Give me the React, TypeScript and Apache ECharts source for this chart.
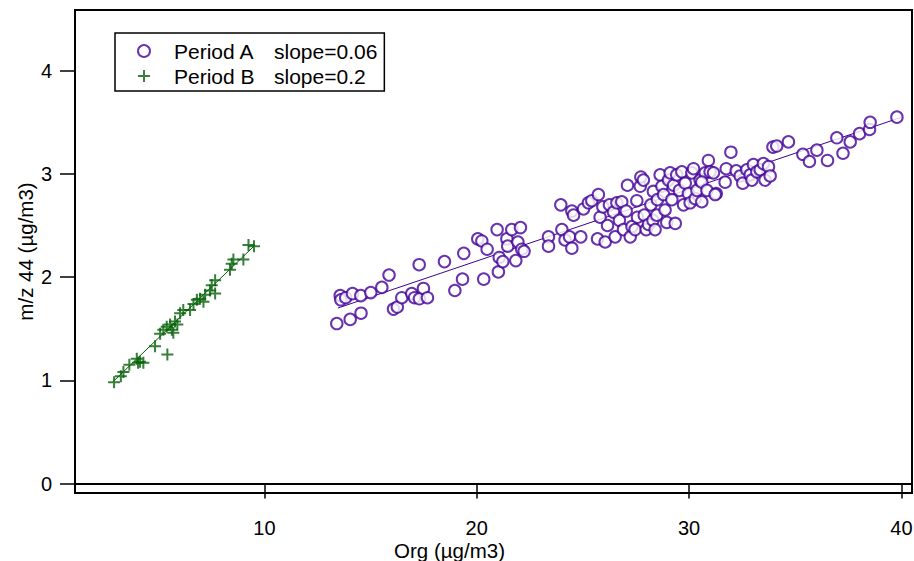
import React, { useEffect, useRef } from "react";
import * as echarts from "echarts";

const periodA: number[][] = [
  [13.41, 1.55], [14.04, 1.59], [14.55, 1.65], [13.57, 1.82], [13.6, 1.78], [13.83, 1.8], [14.15, 1.84], [14.54, 1.82],
  [15.01, 1.85], [15.53, 1.9], [15.87, 2.02], [16.08, 1.69], [16.26, 1.71], [16.47, 1.8], [16.94, 1.84], [17.07, 1.8],
  [17.3, 1.79], [17.49, 1.89], [17.68, 1.8], [17.29, 2.12], [18.48, 2.15], [18.97, 1.87], [19.33, 1.98], [19.39, 2.23],
  [20.05, 2.37], [20.24, 2.35], [20.49, 2.27], [20.33, 1.98], [20.96, 2.46], [21.02, 2.05], [21.06, 2.19], [21.23, 2.15],
  [21.42, 2.37], [21.46, 2.3], [21.65, 2.46], [21.84, 2.16], [21.94, 2.34], [22.06, 2.48], [22.12, 2.27], [22.23, 2.25],
  [23.38, 2.39], [23.38, 2.3], [23.96, 2.7], [24.01, 2.46], [24.16, 2.36], [24.37, 2.39], [24.48, 2.28], [24.48, 2.64],
  [24.56, 2.6], [24.9, 2.39], [25.03, 2.66], [25.26, 2.72], [25.42, 2.74], [25.69, 2.37], [25.73, 2.8], [25.81, 2.58],
  [25.94, 2.68], [26.05, 2.34], [26.16, 2.5], [26.25, 2.7], [26.44, 2.63], [26.52, 2.39], [26.6, 2.72], [26.72, 2.55],
  [26.83, 2.73], [26.91, 2.46], [27.04, 2.64], [27.1, 2.89], [27.23, 2.39], [27.31, 2.49], [27.46, 2.46], [27.54, 2.74],
  [27.57, 2.58], [27.7, 2.88], [27.73, 2.97], [27.85, 2.94], [27.89, 2.6], [27.98, 2.46], [28.09, 2.51], [28.2, 2.7],
  [28.3, 2.55], [28.32, 2.83], [28.4, 2.46], [28.48, 2.6], [28.51, 2.75], [28.64, 2.99], [28.72, 2.88], [28.8, 2.8],
  [28.87, 2.65], [28.95, 2.53], [29.03, 2.94], [29.11, 3.01], [29.19, 2.75], [29.27, 2.89], [29.35, 2.52], [29.42, 2.99],
  [29.55, 2.84], [29.66, 3.02], [29.74, 2.7], [29.82, 2.91], [29.97, 2.81], [30.05, 2.72], [30.13, 3.01], [30.21, 3.05],
  [30.29, 2.76], [30.37, 2.84], [30.52, 2.94], [30.6, 2.73], [30.76, 3.01], [30.91, 3.13], [30.99, 3.02], [31.15, 3.01],
  [31.28, 2.81], [30.6, 2.92], [30.84, 2.84], [31.23, 2.8], [31.75, 3.05], [31.7, 2.92], [31.97, 3.21], [32.22, 3.03],
  [32.41, 2.98], [32.53, 2.91], [32.72, 3.04], [32.88, 2.99], [32.96, 2.94], [33.03, 3.09], [33.19, 3.02], [33.35, 3.04],
  [33.5, 3.1], [33.58, 2.94], [33.74, 3.07], [33.82, 2.98], [33.95, 3.26], [34.13, 3.27], [34.68, 3.31], [35.36, 3.19],
  [35.67, 3.12], [36.02, 3.23], [36.52, 3.13], [36.96, 3.35], [37.25, 3.2], [37.59, 3.31], [38.03, 3.39], [38.5, 3.43],
  [38.53, 3.5], [39.79, 3.55],
];

const periodB: number[][] = [
  [2.92, 0.98], [3.24, 1.04], [3.36, 1.08], [3.64, 1.15], [3.99, 1.21], [4.14, 1.18], [4.3, 1.17], [4.05, 1.17],
  [4.85, 1.33], [5.09, 1.45], [5.24, 1.49], [5.43, 1.25], [5.4, 1.52], [5.56, 1.54], [5.64, 1.49], [5.79, 1.57],
  [5.71, 1.46], [5.9, 1.54], [6.03, 1.65], [6.18, 1.68], [6.5, 1.68], [6.66, 1.74], [6.82, 1.78], [6.97, 1.79],
  [7.13, 1.76], [7.21, 1.83], [7.52, 1.92], [7.68, 1.97], [7.68, 1.84], [7.44, 1.87], [8.38, 2.07], [8.46, 2.13],
  [8.54, 2.17], [9.01, 2.17], [9.25, 2.31], [9.51, 2.3],
];

const fitA: number[][] = [[13.46, 1.7], [40.02, 3.55]];
const fitB: number[][] = [[2.89, 0.99], [9.56, 2.31]];

const seriesNames = ["Period A", "Period B"];
const slopes = ["slope=0.06", "slope=0.2"];
const xTicks = [10, 20, 30, 40];
const yTicks = [0, 1, 2, 3, 4];

const PURPLE = "#420098";
const GREEN = "#056008";
const FONT = "'Liberation Sans', Arial, sans-serif";
const PLUS = "path://M5,0H7V5H12V7H7V12H5V7H0V5H5Z";

export default function App() {
  const ref = useRef<HTMLDivElement>(null);
  useEffect(() => {
    if (!ref.current) return;
    const chart = echarts.init(ref.current, null, { renderer: "svg" });
    chart.setOption({
      animation: false,
      backgroundColor: "#fff",
      textStyle: { fontFamily: FONT },
      grid: {
        left: 75, right: 2, top: 10, bottom: 68,
        containLabel: false, outerBoundsMode: "none",
        show: true, borderColor: "#000", borderWidth: 2,
      },
      legend: {
        data: seriesNames,
        orient: "vertical",
        left: 115,
        top: 33,
        padding: [7, 7, 4, 22],
        itemWidth: 12,
        itemHeight: 12,
        itemGap: 3,
        borderColor: "#000",
        borderWidth: 1.5,
        backgroundColor: "#fff",
        selectedMode: false,
        formatter: (name: string) => {
          const i = seriesNames.indexOf(name);
          return "{s| }{a|" + name + "}{b|" + slopes[i] + "}";
        },
        textStyle: {
          fontFamily: FONT,
          fontSize: 21,
          color: "#000",
          lineHeight: 22,
          rich: {
            s: { width: 19, fontSize: 21, fontFamily: FONT },
            a: { width: 100, fontSize: 21, fontFamily: FONT, color: "#000" },
            b: { fontSize: 21, fontFamily: FONT, color: "#000" },
          },
        },
      },
      xAxis: {
        type: "value",
        min: 1.08,
        max: 40.5,
        name: "Org (µg/m3)",
        nameLocation: "middle",
        nameGap: 49,
        nameMoveOverlap: false,
        nameTextStyle: { fontSize: 20.5, lineHeight: 16, color: "#000", fontFamily: FONT, padding: [0, 88, 0, 0] },
        axisLine: { show: true, lineStyle: { color: "#000", width: 2 } },
        axisTick: { show: true, length: 15, inside: false, customValues: xTicks, lineStyle: { color: "#000", width: 1.5 } },
        axisLabel: { customValues: xTicks, margin: 27, fontSize: 20, lineHeight: 16, color: "#000", fontFamily: FONT },
        splitLine: { show: false },
      },
      yAxis: {
        type: "value",
        min: -0.092,
        max: 4.588,
        name: "m/z 44 (µg/m3)",
        nameLocation: "middle",
        nameGap: 39,
        nameMoveOverlap: false,
        nameTextStyle: { fontSize: 20.5, color: "#000", fontFamily: FONT },
        axisLine: { show: true, lineStyle: { color: "#000", width: 2 } },
        axisTick: { show: true, length: 15, inside: false, customValues: yTicks, lineStyle: { color: "#000", width: 1.5 } },
        axisLabel: { customValues: yTicks, margin: 23, fontSize: 20, color: "#000", fontFamily: FONT },
        splitLine: { show: false },
      },
      series: [
        {
          name: "fitA",
          type: "line",
          data: fitA,
          showSymbol: false,
          symbol: "none",
          lineStyle: { color: PURPLE, width: 1 },
          z: 1,
        },
        {
          name: "fitB",
          type: "line",
          data: fitB,
          showSymbol: false,
          symbol: "none",
          lineStyle: { color: GREEN, width: 1 },
          z: 1,
        },
        {
          name: "Period A",
          type: "scatter",
          data: periodA,
          symbol: "emptyCircle",
          symbolSize: 11.5,
          itemStyle: { color: PURPLE, borderColor: PURPLE, borderWidth: 2.4 },
          z: 2,
        },
        {
          name: "Period B",
          type: "scatter",
          data: periodB,
          symbol: PLUS,
          symbolSize: 12,
          itemStyle: { color: GREEN },
          z: 3,
        },
      ],
    });
    return () => chart.dispose();
  }, []);
  return <div ref={ref} style={{ position: "absolute", left: 0, top: 0, width: 914, height: 561 }} />;
}
